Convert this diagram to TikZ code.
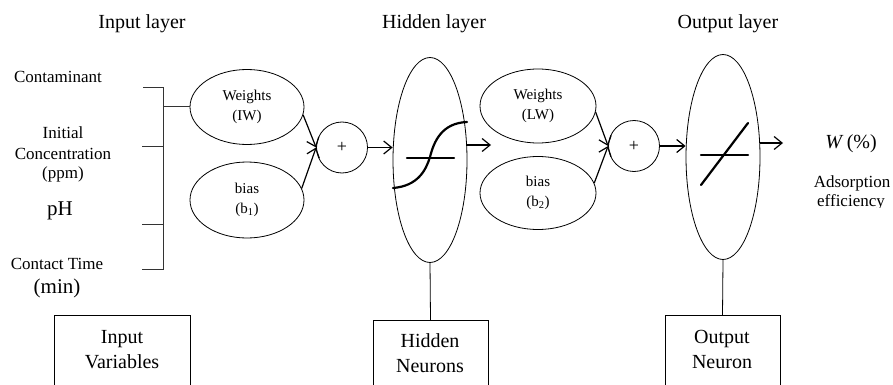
\documentclass[tikz,border=0pt]{standalone}
\usepackage{fontspec}
\setmainfont{Liberation Serif}
\usetikzlibrary{shapes.geometric,arrows.meta}

\begin{document}
\begin{tikzpicture}[x=1pt,y=-1pt,
  title/.style={font=\fontsize{20}{24}\selectfont, anchor=base, inner sep=0pt},
  inlabel/.style={font=\fontsize{17}{20}\selectfont, anchor=base, inner sep=0pt},
  biglabel/.style={font=\fontsize{21}{24}\selectfont, anchor=base, inner sep=0pt},
  boxlabel/.style={font=\fontsize{20}{24}\selectfont, anchor=base, inner sep=0pt},
  oval/.style={draw, ellipse, line width=0.8pt, inner sep=0pt, align=center,
               font=\fontsize{15}{20}\selectfont},
  sumnode/.style={draw, circle, line width=0.8pt, minimum size=51pt, inner sep=0pt,
               font=\fontsize{18}{20}\selectfont},
  neuron/.style={draw, ellipse, line width=0.8pt, minimum width=74pt,
               minimum height=205pt, inner sep=0pt},
  infobox/.style={draw, line width=0.8pt, anchor=north, minimum height=100pt,
               inner sep=0pt},
  brk/.style={line width=1pt, draw=black!80},
  link/.style={line width=0.8pt},
  arr/.style={-{Straight Barb[length=8pt,width=13pt]}, line width=1.2pt},
  actfun/.style={line width=2.2pt, line cap=round}
]
\useasboundingbox (0,0) rectangle (893,385);
\clip (0,0) rectangle (893,385);

% layer titles
\node[title] (tin)  at (142,29) {Input layer};
\node[title] (thid) at (434,29) {Hidden layer};
\node[title] (tout) at (728,29) {Output layer};

% input variables
\node[inlabel]  (in1)  at (58,83)  {Contaminant};
\node[inlabel]  (in2a) at (63,138) {Initial};
\node[inlabel]  (in2b) at (63,159) {Concentration};
\node[inlabel]  (in2c) at (63,178) {(ppm)};
\node[biglabel] (in3)  at (60,215) {pH};
\node[inlabel]  (in4a) at (57,269) {Contact Time};
\node[biglabel] (in4b) at (57,293) {(min)};

% weights, biases, summing junctions and neurons
\node[oval, minimum width=114pt, minimum height=75pt] (w1) at (247,107) {Weights\\(IW)};
\node[oval, minimum width=114pt, minimum height=76pt] (b1) at (247,200) {bias\\(b\textsubscript{1})};
\node[sumnode] (s1) at (342,147.5) {+};
\node[neuron] (hid) at (430,160) {};
\node[oval, minimum width=116pt, minimum height=74pt] (w2) at (538,106) {Weights\\(LW)};
\node[oval, minimum width=116pt, minimum height=73pt] (b2) at (538,193) {bias\\(b\textsubscript{2})};
\node[sumnode] (s2) at (634,146) {+};
\node[neuron] (out) at (723,157) {};

% bracket gathering the inputs
\coordinate (t1) at (143,88);
\coordinate (t2) at (142,146);
\coordinate (t3) at (142,224);
\coordinate (t4) at (142,269);
\coordinate (sp1) at (163,88);
\coordinate (sp4) at (163,269);
\draw[brk] (t1) -- (sp1) -- (sp4) -- (t4);
\draw[brk] (t2) -- (t2 -| sp1);
\draw[brk] (t3) -- (t3 -| sp1);
\draw[brk] (w1.west -| sp1) -- (w1.west);

% signal flow
\draw[arr] (w1.-8) -- (s1.west);
\draw[arr] (b1.12) -- (s1.west);
\draw[arr] (s1.east) -- (s1.east -| hid.west);
\coordinate (hidout) at (491,145);
\draw[arr] (hid.east |- hidout) -- (hidout);
\draw[arr] (w2.-6) -- (s2.west);
\draw[arr] (b2.10) -- (s2.west);
\draw[arr] (s2.east) -- (s2.east -| out.west);
\coordinate (outtip) at (783,143);
\draw[arr] (out.east |- outtip) -- (outtip);

% transfer functions
\draw[actfun] (393,188) .. controls (418,186) and (426,170) .. (430,157)
              .. controls (434,141) and (442,123) .. (467,122);
\draw[actfun] (407,158) -- (454,158);
\draw[actfun] (701,185) -- (748,123);
\draw[actfun] (701,155) -- (748,155);

% output
\node[font=\fontsize{20}{24}\selectfont, anchor=base, inner sep=0pt] (wout) at (851,148) {\textit{W}\,(\%)};
\node[inlabel] (ads) at (852,187) {Adsorption};
\begin{scope}
  \clip (800,190) rectangle (893,207.5);
  \node[inlabel] (eff) at (851,206) {efficiency};
\end{scope}

% description boxes
\node[infobox, minimum width=136pt] (ibox) at (122,315) {};
\node[infobox, minimum width=115pt] (hbox) at (430.5,320) {};
\node[infobox, minimum width=115pt] (obox) at (722.5,315) {};
\draw[link] (hid.south) -- (hbox.north);
\draw[link] (out.south) -- (obox.north);

\node[boxlabel] (ib1) at (122,343) {Input};
\node[boxlabel] (ib2) at (122,368) {Variables};
\node[boxlabel] (hb1) at (430,347) {Hidden};
\node[boxlabel] (hb2) at (430,372) {Neurons};
\node[boxlabel] (ob1) at (722,343) {Output};
\node[boxlabel] (ob2) at (722,368) {Neuron};
\end{tikzpicture}
\end{document}
